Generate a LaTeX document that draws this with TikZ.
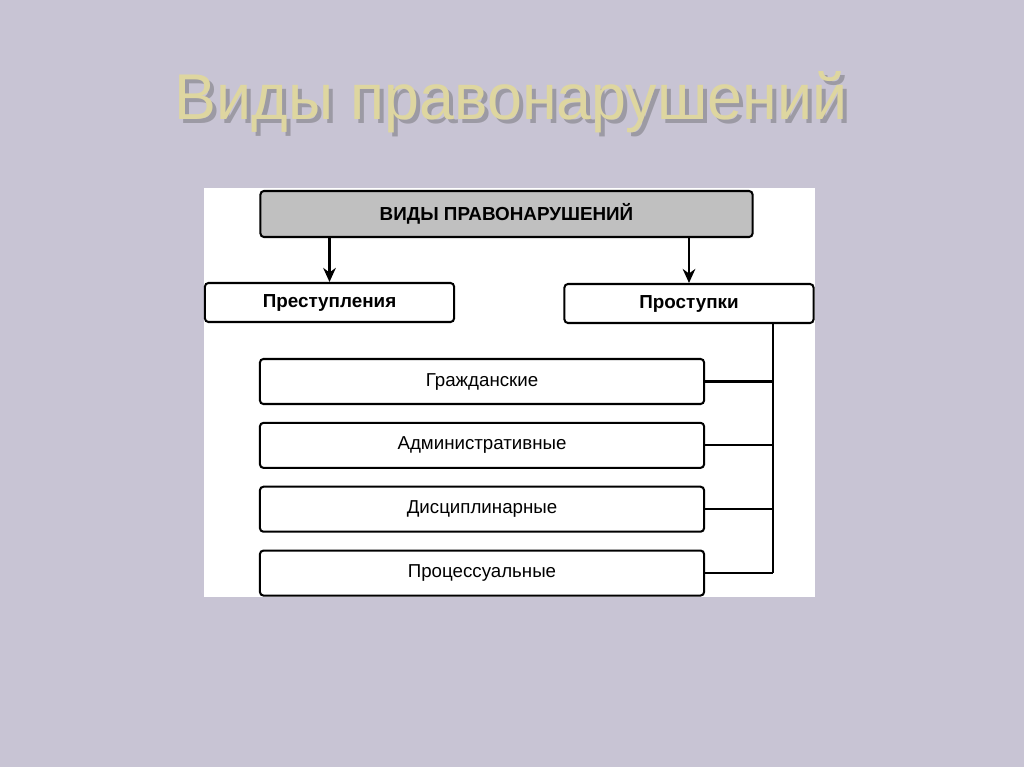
\documentclass[tikz,border=0pt]{standalone}
\usepackage{fontspec}
\setmainfont{Liberation Sans}
\newfontfamily\titlefont[FakeStretch=0.97]{Liberation Sans}
\usetikzlibrary{positioning, arrows.meta}
\definecolor{slide}{RGB}{200,196,212}
\definecolor{titlegold}{RGB}{222,214,160}
\definecolor{headgray}{RGB}{192,192,192}
\tikzset{%
  every box/.style={
    draw,
    line width=1.45pt,
    rounded corners=2.5pt,
    fill=white,
    inner sep=0pt,
    font=\fontsize{13.3}{15}\selectfont
  },
  head box/.style={
    every box,
    fill=headgray,
    minimum width=12.3cm,
    minimum height=1.15cm,
    font=\bfseries\fontsize{13.4}{15}\selectfont
  },
  group box/.style={
    every box,
    minimum width=6.225cm,
    minimum height=0.975cm,
    font=\bfseries\fontsize{13.4}{15}\selectfont
  },
  kind box/.style={
    every box,
    minimum width=11.1cm,
    minimum height=1.125cm
  },
  title text/.style={
    anchor=base,
    inner sep=0pt,
    font=\titlefont\fontsize{46}{50}\selectfont
  }
}

\begin{document}
\begin{tikzpicture}[x=0.025cm, y=-0.025cm, >=Stealth, node distance=0.42cm]
		%% slide
		\fill[slide] (0,0) rectangle (1024,767);
		\useasboundingbox (0,0) rectangle (1024,767);
		\fill[white] (204,188) rectangle (815,597);
		%% title
		\node[title text, text=black!70, opacity=0.35] (shadow) at (515,124) {Виды правонарушений};
		\node[title text, text=titlegold] (title) at (511,120) {Виды правонарушений};
		%% top
		\node[head box] (top) at (506.5,214) {ВИДЫ ПРАВОНАРУШЕНИЙ};
		\node[group box] (prest) at (329.5,302.5) {Преступления};
		\node[group box] (prost) at (689,303.5) {Проступки};
		%% kinds
		\node[kind box] (civ) at (482,381.5) {Гражданские};
		\node[kind box, below=of civ] (adm) {Административные};
		\node[kind box, below=of adm] (disc) {Дисциплинарные};
		\node[kind box, below=of disc] (proc) {Процессуальные};
		\coordinate (trunk) at (773,572.5);
		%% connections
		\draw[-{Stealth[length=10pt, width=9pt]}, line width=1.45pt] (prest.north |- top.south) -- (prest.north);
		\draw[-{Stealth[length=10pt, width=9pt]}, line width=1.45pt] (prost.north |- top.south) -- (prost.north);
		\draw[line width=1.45pt] (prost.south -| trunk) -- (trunk);
		\foreach \k in {civ, adm, disc, proc}
			\draw[line width=1.45pt] (\k.east) -- (\k.east -| trunk);
	\end{tikzpicture}
\end{document}
